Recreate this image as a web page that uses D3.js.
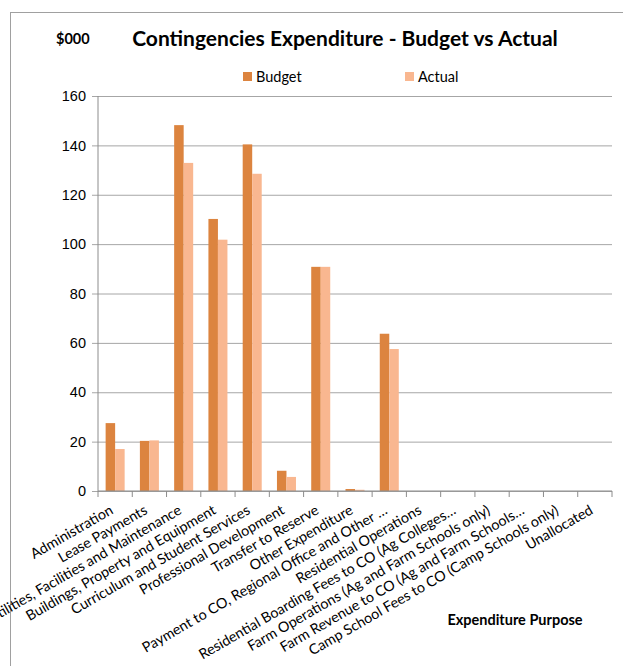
<!DOCTYPE html>
<html>
<head>
<meta charset="utf-8">
<script src="https://cdnjs.cloudflare.com/ajax/libs/d3/7.8.5/d3.min.js"></script>
<style>
  body { margin: 0; background: #fff; }
  svg { display: block; font-family: Lato, "Open Sans", sans-serif; }
</style>
</head>
<body>
<div id="chart"></div>
<script>
var svgWidth = 623;
var svgHeight = 666;

// chart data ($000)
var categories = [
  "Administration",
  "Lease Payments",
  "Utilities, Facilities and Maintenance",
  "Buildings, Property and Equipment",
  "Curriculum and Student Services",
  "Professional Development",
  "Transfer to Reserve",
  "Other Expenditure",
  "Payment to CO, Regional Office and Other \u2026",
  "Residential Operations",
  "Residential Boarding Fees to CO (Ag Colleges\u2026",
  "Farm Operations (Ag and Farm Schools only)",
  "Farm Revenue to CO (Ag and Farm Schools\u2026",
  "Camp School Fees to CO (Camp Schools only)",
  "Unallocated"
];
var budget = [27.5, 20.3, 148.2, 110.2, 140.4, 8.2, 90.8, 0.8, 63.7, 0, 0, 0, 0, 0, 0];
var actual = [17, 20.5, 132.9, 101.8, 128.5, 5.7, 90.8, 0.5, 57.5, 0, 0, 0, 0, 0, 0];
var seriesNames = ["Budget", "Actual"];
var seriesColors = ["#dc843f", "#f9b790"];
var yTicks = [0, 20, 40, 60, 80, 100, 120, 140, 160];

var plot = { left: 98, right: 612, top: 96, bottom: 491 };

var svg = d3.select("#chart")
  .append("svg")
  .attr("width", svgWidth)
  .attr("height", svgHeight);

// outer chart border (runs off the right and bottom edge)
svg.append("rect")
  .attr("x", 10.5)
  .attr("y", 12.5)
  .attr("width", 700)
  .attr("height", 700)
  .attr("fill", "none")
  .attr("stroke", "#a0a0a0");

var x0 = d3.scaleBand()
  .domain(categories)
  .range([plot.left, plot.right])
  .paddingInner(0.445)
  .paddingOuter(0.2225);

var x1 = d3.scaleBand()
  .domain(seriesNames)
  .range([0, x0.bandwidth()]);

var y = d3.scaleLinear()
  .domain([0, 160])
  .range([plot.bottom, plot.top]);

// gridlines + left axis
var leftAxis = d3.axisLeft(y)
  .tickValues(yTicks)
  .tickSize(-(plot.right - plot.left))
  .tickSizeOuter(0)
  .tickPadding(12);

var yAxis = svg.append("g")
  .attr("transform", `translate(${plot.left}, 0)`)
  .call(leftAxis);
yAxis.select(".domain").remove();
yAxis.selectAll("line")
  .attr("x1", -6)
  .attr("stroke", "#a6a6a6");
yAxis.selectAll("text")
  .attr("font-size", 14.5)
  .attr("fill", "#000");

// y axis line
svg.append("line")
  .attr("x1", plot.left).attr("x2", plot.left)
  .attr("y1", plot.top).attr("y2", plot.bottom)
  .attr("stroke", "#8c8c8c");

// bars
var rows = categories.map((c, i) => ({ cat: c, values: [budget[i], actual[i]] }));

svg.append("g")
  .selectAll("g")
  .data(rows)
  .enter()
  .append("g")
  .attr("transform", d => `translate(${x0(d.cat)}, 0)`)
  .selectAll("rect")
  .data(d => d.values.map((v, j) => ({ name: seriesNames[j], value: v, color: seriesColors[j] })))
  .enter()
  .append("rect")
  .attr("x", d => x1(d.name))
  .attr("y", d => y(d.value))
  .attr("width", x1.bandwidth())
  .attr("height", d => y(0) - y(d.value))
  .attr("fill", d => d.color);

// bottom axis: ticks between categories
var step = x0.step();
var boundaries = d3.range(categories.length + 1).map(i => plot.left + i * step);
var xAxis = svg.append("g");
xAxis.append("line")
  .attr("x1", plot.left).attr("x2", plot.right)
  .attr("y1", plot.bottom).attr("y2", plot.bottom)
  .attr("stroke", "#8c8c8c");
xAxis.selectAll(".tick")
  .data(boundaries)
  .enter()
  .append("line")
  .attr("x1", d => d).attr("x2", d => d)
  .attr("y1", plot.bottom).attr("y2", plot.bottom + 6)
  .attr("stroke", "#8c8c8c");

// rotated category labels
xAxis.selectAll(".label")
  .data(categories)
  .enter()
  .append("text")
  .attr("transform", d => `translate(${x0(d) + x0.bandwidth() / 2 - 1}, 513) rotate(-30)`)
  .attr("text-anchor", "end")
  .attr("font-size", 14.3)
  .attr("fill", "#000")
  .text(d => d);

// title and units
svg.append("text")
  .attr("x", 345)
  .attr("y", 46)
  .attr("text-anchor", "middle")
  .attr("font-size", 21)
  .attr("font-weight", "bold")
  .text("Contingencies Expenditure - Budget vs Actual");

svg.append("text")
  .attr("x", 56)
  .attr("y", 44)
  .attr("font-size", 14.5)
  .attr("font-weight", "bold")
  .text("$000");

// legend
var legend = svg.append("g");
var legendX = [243, 405];
seriesNames.forEach(function(name, i) {
  legend.append("rect")
    .attr("x", legendX[i])
    .attr("y", 72)
    .attr("width", 9)
    .attr("height", 9)
    .attr("fill", seriesColors[i]);
  legend.append("text")
    .attr("x", legendX[i] + 13)
    .attr("y", 82)
    .attr("font-size", 14.5)
    .text(name);
});

// x axis title
svg.append("text")
  .attr("x", 515)
  .attr("y", 625)
  .attr("text-anchor", "middle")
  .attr("font-size", 14.5)
  .attr("font-weight", "bold")
  .text("Expenditure Purpose");
</script>
</body>
</html>
